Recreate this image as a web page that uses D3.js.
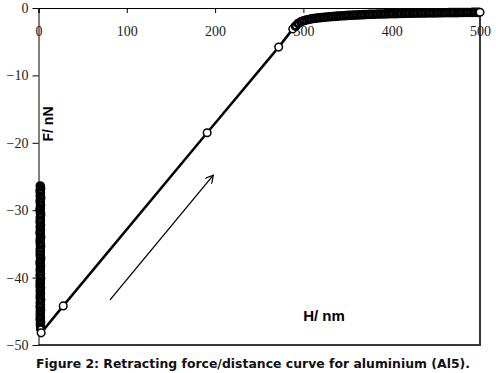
<!DOCTYPE html>
<html>
<head>
<meta charset="utf-8">
<script src="https://cdn.jsdelivr.net/npm/d3@7"></script>
<style>
  body { margin: 0; background: #fff; }
  svg { display: block; }
</style>
</head>
<body>
<div class="chart"></div>
<script>
const width = 496;
const height = 373;

// retract curve: cluster at contact, linear snap-off, then flat tail
const clusterH = [2, 2.4, 1.8, 2.2, 2, 2.5, 1.9, 2.1, 2.3, 2, 1.8, 2.2, 2.4, 2, 2.1, 1.9, 2.3, 2, 2.2, 1.8,
    2.1, 2.4, 2, 1.9, 2.2, 2.3, 2, 2.1, 1.9, 2.2, 2.4, 2, 1.8, 2.3, 2.1, 2, 2.2, 1.9, 2.4, 2,
    2.1, 1.8, 2.3, 2, 2.2, 2.1, 1.9, 2.4, 2, 2.2, 1.9, 2.3, 2.1, 2, 2.2, 1.9, 2.4, 2.1, 2.3, 2.5];
const clusterF = [-26.4, -26.8, -27.1, -27.5, -27.9, -28.2, -28.6, -28.9, -29.3, -29.7, -30.0, -30.4, -30.7, -31.1, -31.5, -31.8, -32.2, -32.5, -32.9, -33.3,
    -33.6, -34.0, -34.3, -34.7, -35.1, -35.4, -35.8, -36.1, -36.5, -36.9, -37.2, -37.6, -37.9, -38.3, -38.7, -39.0, -39.4, -39.7, -40.1, -40.5,
    -40.8, -41.2, -41.5, -41.9, -42.3, -42.6, -43.0, -43.3, -43.7, -44.1, -44.4, -44.8, -45.1, -45.5, -45.9, -46.2, -46.6, -46.9, -47.3, -47.6];
const rampH = [3, 28, 191, 272, 288];
const rampF = [-48.2, -44.2, -18.5, -5.8, -3.1];
const tailH = [291, 294, 297, 300, 303, 306, 309, 312, 315, 318, 321, 324, 327, 330, 333, 336, 339, 342, 345, 348,
    351, 354, 357, 360, 363, 366, 369, 372, 375, 378, 381, 384, 387, 390, 393, 396, 399, 402, 405, 408,
    411, 414, 417, 420, 423, 426, 429, 432, 435, 438, 441, 444, 447, 450, 453, 456, 459, 462, 465, 468,
    471, 474, 477, 480, 483, 486, 489, 492, 495, 498];
const tailF = [-2.7, -2.3, -2.05, -1.9, -1.8, -1.7, -1.62, -1.55, -1.5, -1.45, -1.41, -1.37, -1.33, -1.3, -1.27, -1.24, -1.21, -1.18, -1.15, -1.13,
    -1.1, -1.08, -1.06, -1.04, -1.02, -1.0, -0.98, -0.96, -0.95, -0.93, -0.92, -0.9, -0.89, -0.88, -0.87, -0.86, -0.85, -0.84, -0.83, -0.82,
    -0.81, -0.8, -0.79, -0.78, -0.77, -0.77, -0.76, -0.75, -0.75, -0.74, -0.73, -0.73, -0.72, -0.72, -0.71, -0.71, -0.7, -0.7, -0.69, -0.69,
    -0.68, -0.68, -0.67, -0.67, -0.66, -0.66, -0.66, -0.65, -0.65, -0.65];
const endH = [500];
const endF = [-0.64];

const xTicks = [0, 100, 200, 300, 400, 500];
const yTicks = [0, -10, -20, -30, -40, -50];

// arrow annotation in data units
const arrowFrom = [81, -43.3];
const arrowTo = [198, -24.8];

const caption = "Figure 2: Retracting force/distance curve for aluminium (Al5).";

const points = []
clusterH.forEach((h, i) => points.push({ h, f: clusterF[i], dense: true }))
rampH.forEach((h, i) => points.push({ h, f: rampF[i], dense: false }))
tailH.forEach((h, i) => points.push({ h, f: tailF[i], dense: true }))
endH.forEach((h, i) => points.push({ h, f: endF[i], dense: false }))

const x = d3.scaleLinear().domain([0, 500]).range([38.5, 480])
const y = d3.scaleLinear().domain([-50, 0]).range([345, 8])

const svg = d3.select(".chart")
    .append("svg")
    .attr("width", width)
    .attr("height", height)

svg.append("defs").append("marker")
    .attr("id", "head")
    .attr("viewBox", "0 0 10 10")
    .attr("refX", 9)
    .attr("refY", 5)
    .attr("markerWidth", 9)
    .attr("markerHeight", 9)
    .attr("markerUnits", "userSpaceOnUse")
    .attr("orient", "auto")
    .append("path")
    .attr("d", "M0,0 L9,5 L0,10")
    .attr("fill", "none")
    .attr("stroke", "#000")
    .attr("stroke-width", 1.3)

// plot frame (right & bottom)
svg.append("path")
    .attr("d", `M${x(0)},${y(-50)} H${x(500)} V${y(0)}`)
    .attr("fill", "none")
    .attr("stroke", "#3a3a3a")
    .attr("stroke-width", 2)

// x axis along the top (F = 0)
const xAxis = svg.append("g")
    .attr("transform", `translate(0, ${y(0)})`)
    .call(d3.axisBottom(x).tickValues(xTicks).tickSize(5).tickPadding(13).tickFormat(d3.format("d")))
xAxis.select(".domain").attr("stroke", "#000")
xAxis.selectAll(".tick line").attr("stroke", "#000")
xAxis.selectAll(".tick text")
    .attr("font-family", "Liberation Serif, Times New Roman, serif")
    .attr("font-size", 14)
    .attr("fill", "#222")

const yAxis = svg.append("g")
    .attr("transform", `translate(${x(0)}, 0)`)
    .call(d3.axisLeft(y).tickValues(yTicks).tickSize(6).tickPadding(4).tickSizeOuter(0).tickFormat(d3.format("d")))
yAxis.select(".domain").attr("stroke", "#000")
yAxis.selectAll(".tick line").attr("stroke", "#000")
yAxis.selectAll(".tick text")
    .attr("font-family", "Liberation Serif, Times New Roman, serif")
    .attr("font-size", 14)
    .attr("fill", "#222")

// series line
svg.append("path")
    .datum(points)
    .attr("d", d3.line().x(d => x(d.h)).y(d => y(d.f)))
    .attr("fill", "none")
    .attr("stroke", "#000")
    .attr("stroke-width", 2.5)

svg.append("g")
    .selectAll("circle")
    .data(points)
    .join("circle")
    .attr("cx", d => x(d.h))
    .attr("cy", d => y(d.f))
    .attr("r", d => d.dense ? 3.4 : 3.8)
    .attr("fill", "#fff")
    .attr("stroke", "#000")
    .attr("stroke-width", d => d.dense ? 2.8 : 1.5)

svg.append("line")
    .attr("x1", x(arrowFrom[0]))
    .attr("y1", y(arrowFrom[1]))
    .attr("x2", x(arrowTo[0]))
    .attr("y2", y(arrowTo[1]))
    .attr("stroke", "#000")
    .attr("stroke-width", 1.3)
    .attr("marker-end", "url(#head)")

svg.append("text")
    .text("F/ nN")
    .attr("transform", `translate(53, 124) rotate(-90)`)
    .attr("text-anchor", "middle")
    .attr("font-family", "Liberation Sans, Arial, sans-serif")
    .attr("font-weight", "bold")
    .attr("font-size", 14)

svg.append("text")
    .text("H/ nm")
    .attr("x", 324)
    .attr("y", 321)
    .attr("text-anchor", "middle")
    .attr("font-family", "Liberation Sans, Arial, sans-serif")
    .attr("font-weight", "bold")
    .attr("font-size", 15)

svg.append("text")
    .text(caption)
    .attr("x", 36)
    .attr("y", 368)
    .attr("textLength", 434)
    .attr("lengthAdjust", "spacingAndGlyphs")
    .attr("font-family", "DejaVu Sans, Verdana, sans-serif")
    .attr("font-weight", "bold")
    .attr("font-size", 13)
    .attr("fill", "#111")
</script>
</body>
</html>
